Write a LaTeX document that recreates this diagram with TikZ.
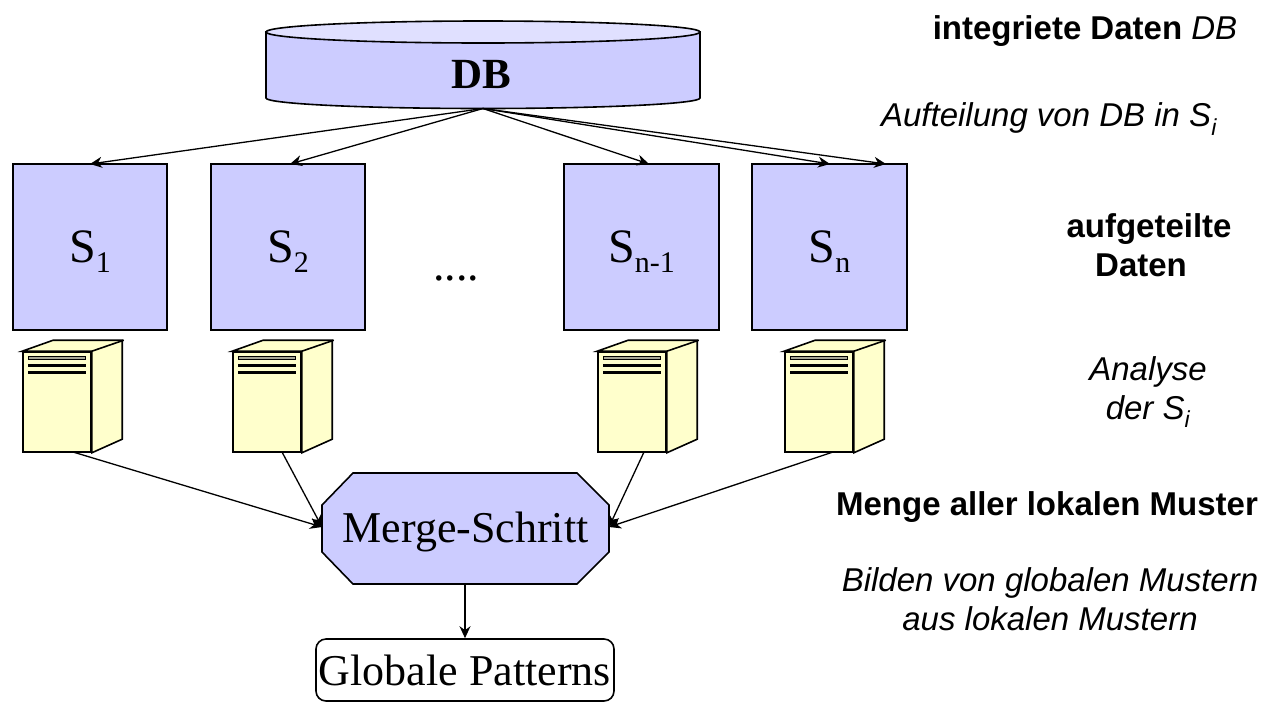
\documentclass[tikz,border=0pt]{standalone}
\usepackage{fontspec}
\setmainfont{Liberation Serif}
\newfontfamily\arialf{Liberation Sans}
\usetikzlibrary{arrows.meta}
\definecolor{lilac}{RGB}{204,204,255}
\definecolor{lilactop}{RGB}{224,224,255}
\definecolor{cream}{RGB}{255,255,204}
\newcommand{\fs}[1]{\fontsize{#1}{#1}\selectfont}
\newcommand{\Ssub}[1]{S\raisebox{-10pt}{\fs{30}#1}}
\tikzset{
 x=1pt,y=-1pt,
 ln/.style={line width=1.6pt,draw=black,line join=miter},
 conn/.style={line width=1.3pt,-{Stealth[length=12pt,width=11pt]}},
 sqbox/.style={ln,fill=lilac,minimum width=154pt,minimum height=166pt,inner sep=0pt,font=\fs{48},text depth=0pt},
 frontbox/.style={ln,fill=cream,minimum width=68pt,minimum height=100pt,inner sep=0pt},
 side/.style={ln,fill=cream},
 barb/.style={line width=3pt,draw=black},
 lab/.style={font=\arialf\fs{33},align=center,inner sep=0pt,text depth=0pt},
}
\newcommand{\server}[2]{% name, center x of front
 \node[frontbox] (#1) at (#2,402) {};
 \draw[side] (#1.north west) -- ++(31,-11) -- ++(69,0) -- ++(0,99) -- (#1.south east) -- (#1.north east) -- cycle;
 \draw[ln] (#1.north east) -- ++(32,-11);
 \draw[line width=1.2pt,draw=black,fill=gray!70!cream] (#2-28.5,356.3) rectangle (#2+28.5,359.2);
 \draw[barb] (#2-29,365) -- (#2+29,365);
 \draw[barb] (#2-29,372.3) -- (#2+29,372.3);
}
\begin{document}
\begin{tikzpicture}
\useasboundingbox (0,0) rectangle (1273,702);
% DB cylinder
\draw[ln,fill=lilac] (266,32) -- (266,98) arc[start angle=180,end angle=0,x radius=217,y radius=10.5] -- (700,32) -- cycle;
\draw[ln,fill=lilactop] (483,32) ellipse[x radius=217,y radius=11];
\node[font=\bfseries\fs{43},inner sep=0pt] (db) at (481,74) {DB};
\coordinate (dbs) at (483,108.5);
% data boxes
\node[sqbox] (s1) at (90,247) {\Ssub{1}};
\node[sqbox] (s2) at (288,247) {\Ssub{2}};
\node[sqbox,minimum width=155pt] (s3) at (641.5,247) {\Ssub{n-1}};
\node[sqbox,minimum width=155pt] (s4) at (829.5,247) {\Ssub{n}};
\node[font=\fs{46},inner sep=0pt] (dots) at (456,278) {....};
% servers
\server{v1}{57}
\server{v2}{267}
\server{v3}{632}
\server{v4}{819}
% merge
\draw[ln,fill=lilac] (353,473) coordinate (mtl) -- (577,473) -- (609,505) -- (609,552) -- (577,584) -- (353,584) -- (322,552) -- (322,505) -- cycle;
\node[font=\fs{44},inner sep=0pt] (merge) at (465.5,532) {Merge-Schritt};
\node[ln,rounded corners=10pt,minimum width=298pt,minimum height=62pt,inner sep=0pt,font=\fs{44},fill=white] (gp) at (465,670) {Globale Patterns};
% connectors
\coordinate (a1) at (90,164); \coordinate (a2) at (290,164);
\coordinate (a3) at (649,164); \coordinate (a4) at (830,164); \coordinate (a5) at (886,164);
\foreach \t in {a1,a2,a3,a4,a5} \draw[conn] (dbs) -- (\t);
\coordinate (b1) at (73,452); \coordinate (b2) at (282,452);
\coordinate (b3) at (644,452); \coordinate (b4) at (833,452);
\coordinate (ml) at (322,527); \coordinate (mr) at (609,527);
\draw[conn] (b1) -- (ml);
\draw[conn] (b2) -- (ml);
\draw[conn] (b3) -- (mr);
\draw[conn] (b4) -- (mr);
\coordinate (mb) at (465,584);
\draw[conn] (mb) -- (gp.north);
% right labels
\node[lab] (t1) at (1085,28) {\bfseries integriete Daten \mdseries\itshape DB};
\node[lab] (t2) at (1049,115) {\itshape Aufteilung von DB in S\textsubscript{i}};
\node[lab] (t3) at (1149,245) {\bfseries aufgeteilte\\[6pt]\bfseries Daten\hspace*{16pt}};
\node[lab] (t4) at (1148,388) {\itshape Analyse\\[6pt]\itshape der S\textsubscript{i}};
\node[lab] (t5) at (1047,504) {\bfseries Menge aller lokalen Muster};
\node[lab] (t6) at (1050,599) {\itshape Bilden von globalen Mustern\\[6pt]\itshape aus lokalen Mustern};
\end{tikzpicture}
\end{document}
